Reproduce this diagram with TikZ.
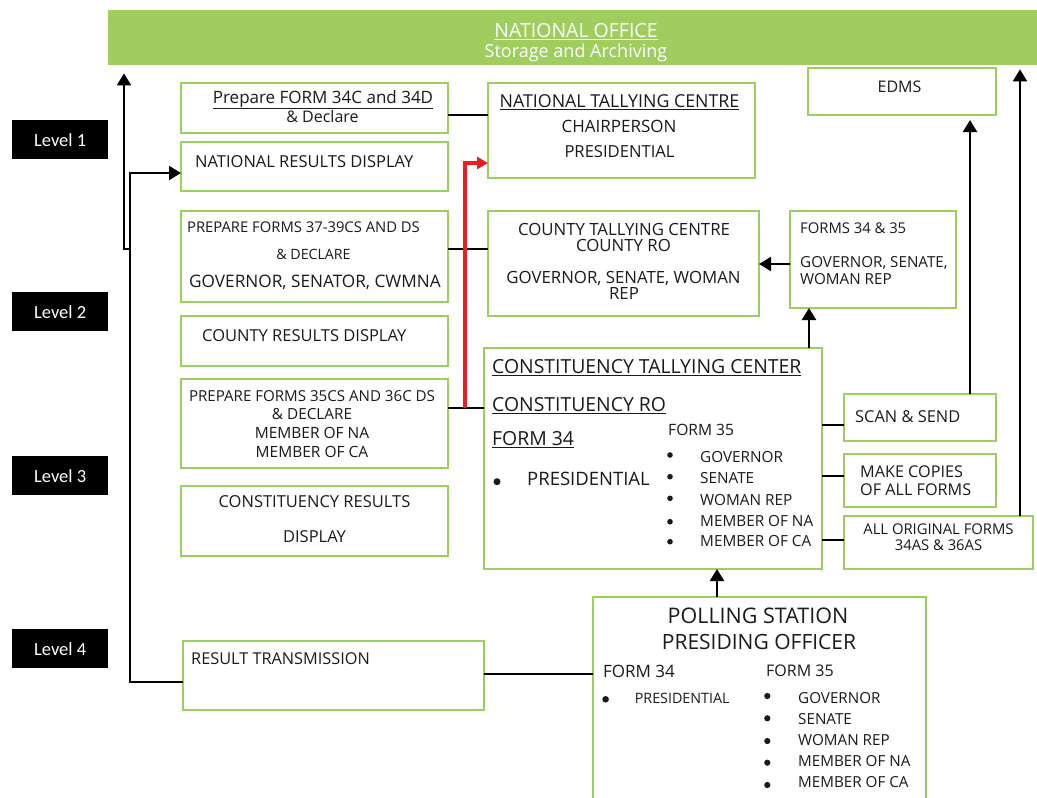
\documentclass[tikz,border=0pt]{standalone}
\usepackage{fontspec}
\setmainfont{Open Sans}
\newfontfamily\levelfont{Carlito}
\usetikzlibrary{arrows.meta}
\definecolor{boxgreen}{HTML}{9BCF5E}
\definecolor{bannergreen}{HTML}{9FCE5E}
\definecolor{txt}{HTML}{1A1A1A}
\definecolor{redline}{HTML}{ED1C24}
\begin{document}
\begin{tikzpicture}[x=1pt,y=-1pt,
 box/.style={draw=boxgreen, line width=2.5pt, fill=white, inner sep=0pt, outer sep=0pt, anchor=north west},
 lvl/.style={fill=black, text=white, font=\levelfont\fontsize{18.5}{19}\selectfont, minimum width=96pt, minimum height=39pt, inner sep=0pt, anchor=north west},
 fs/.style={font=\fontsize{#1}{#1}\selectfont, yshift={-0.357*#1pt}},
 t/.style={text=txt, inner sep=0pt, anchor=base},
 tl/.style={text=txt, inner sep=0pt, anchor=base west},
 conn/.style={line width=2.2pt, draw=black},
 arr/.style={conn, -{Triangle[length=12pt,width=14pt]}},
 bul/.style={fill=txt},
]
\useasboundingbox (0,0) rectangle (1037,798);

% banner
\node[fill=bannergreen, minimum width=929pt, minimum height=55pt, anchor=north west, inner sep=0pt] (office) at (108,10) {};
\node[t, text=white, fs=19.5] (officet) at (576,31) {\underline{NATIONAL OFFICE}};
\node[t, text=white, fs=18] (offices) at (576,51) {Storage and Archiving};

% levels
\node[lvl] (l1) at (12,120) {Level 1};
\node[lvl] (l2) at (12,292) {Level 2};
\node[lvl] (l3) at (12,456) {Level 3};
\node[lvl] (l4) at (12,629) {Level 4};

% boxes
\node[box, minimum width=267pt, minimum height=50pt] (prep34) at (181,83) {};
\node[box, minimum width=267pt, minimum height=49pt] (natdisp) at (181,142) {};
\node[box, minimum width=267pt, minimum height=95pt] (ntc) at (488,83) {};
\node[box, minimum width=188pt, minimum height=47pt] (edms) at (808,68) {};
\node[box, minimum width=267pt, minimum height=91pt] (prep37) at (181,211) {};
\node[box, minimum width=271pt, minimum height=105pt] (ctc) at (488,211) {};
\node[box, minimum width=166pt, minimum height=97pt] (f3435) at (790,211) {};
\node[box, minimum width=267pt, minimum height=50pt] (cntydisp) at (181,316) {};
\node[box, minimum width=267pt, minimum height=89pt] (prep35) at (181,379) {};
\node[box, minimum width=267pt, minimum height=70pt] (constdisp) at (181,486) {};
\node[box, minimum width=338pt, minimum height=221pt] (ctcen) at (484,348) {};
\node[box, minimum width=152pt, minimum height=47pt] (scan) at (844,394) {};
\node[box, minimum width=152pt, minimum height=53pt] (copies) at (844,454) {};
\node[box, minimum width=189pt, minimum height=53pt] (orig) at (844,516) {};
\node[box, minimum width=301pt, minimum height=69pt] (restr) at (183,641) {};
\node[box, minimum width=333pt, minimum height=215pt] (poll) at (593,597) {};

% connectors
\draw[arr] (restr.west |- 0,682) -- (130,682) -- (130,173) -- (natdisp.west |- 0,173);
\coordinate (lj) at (130,249);
\draw[arr] (lj) -- (124,249) -- ([yshift=-8pt]office.south -| 124,0);
\draw[conn] (prep34.east |- 0,115) -- (ntc.west |- 0,115);
\draw[conn] (prep37.east |- 0,249) -- (ctc.west |- 0,249);
\draw[conn] (prep35.east |- 0,408) -- (ctcen.west |- 0,408);
\coordinate (rs) at (465,408);
\draw[line width=4.5pt, draw=redline, -{Triangle[length=11pt,width=12pt]}] (rs) -- (465,163) -- (ntc.west |- 0,163);
\draw[arr] (f3435.west |- 0,264) -- (ctc.east |- 0,264);
\draw[arr] (ctcen.north -| 809,0) -- (f3435.south -| 809,0);
\draw[arr] (scan.north -| 970,0) -- ([yshift=-5pt]edms.south -| 970,0);
\draw[arr] (orig.north -| 1020,0) -- ([yshift=-4pt]office.south -| 1020,0);
\draw[conn] (ctcen.east |- 0,425) -- (scan.west |- 0,425);
\draw[conn] (ctcen.east |- 0,476) -- (copies.west |- 0,476);
\draw[conn] (ctcen.east |- 0,540) -- (orig.west |- 0,540);
\draw[arr] (poll.north -| 717,0) -- (ctcen.south -| 717,0);
\draw[conn] (restr.east |- 0,674) -- (poll.west |- 0,674);

% texts
\node[t, fs=17] (p34a) at (323,97) {\underline{Prepare FORM 34C and 34D}};
\node[t, fs=16] (p34b) at (322.5,116.5) {\& Declare};
\node[tl, fs=16.5] (ndt) at (195,161.5) {NATIONAL RESULTS DISPLAY};
\node[t, fs=17.8] (ntca) at (619.5,101) {\underline{NATIONAL TALLYING CENTRE}};
\node[t, fs=17] (ntcb) at (619,126.8) {CHAIRPERSON};
\node[t, fs=16.6] (ntcc) at (619.5,151.7) {PRESIDENTIAL};
\node[t, fs=16] (edmst) at (899.5,87) {EDMS};
\node[t, fs=14.8] (p37a) at (303.5,227) {PREPARE FORMS 37-39CS AND DS};
\node[t, fs=14.2] (p37b) at (313.5,254) {\& DECLARE};
\node[t, fs=17.2] (p37c) at (315,281) {GOVERNOR, SENATOR, CWMNA};
\node[t, fs=16.8] (ctca) at (624,229.3) {COUNTY TALLYING CENTRE};
\node[t, fs=16.8] (ctcb) at (623.5,245.8) {COUNTY RO};
\node[t, fs=16.8] (ctcc) at (623.5,277.7) {GOVERNOR, SENATE, WOMAN};
\node[t, fs=16.8] (ctcd) at (624,293.5) {REP};
\node[tl, fs=14.8] (fa) at (800,228.3) {FORMS 34 \& 35};
\node[tl, fs=15.2] (fb) at (800,262) {GOVERNOR, SENATE,};
\node[tl, fs=15.2] (fc) at (800,279) {WOMAN REP};
\node[tl, fs=16.5] (cdt) at (202,335.5) {COUNTY RESULTS DISPLAY};
\node[t, fs=15.1] (p35a) at (312,395.8) {PREPARE FORMS 35CS AND 36C DS};
\node[t, fs=15.3] (p35b) at (312,414.3) {\& DECLARE};
\node[t, fs=15.5] (p35c) at (312,433.3) {MEMBER OF NA};
\node[t, fs=15.5] (p35d) at (312,452.3) {MEMBER OF CA};
\node[t, fs=16.5] (cda) at (314.5,502) {CONSTITUENCY RESULTS};
\node[t, fs=16.5] (cdb) at (314.5,536.7) {DISPLAY};

\node[tl, fs=19.4] (cca) at (492,366.5) {\underline{CONSTITUENCY TALLYING CENTER}};
\node[tl, fs=19.4] (ccb) at (492,405) {\underline{CONSTITUENCY RO}};
\node[tl, fs=19.4] (ccc) at (492,439) {\underline{FORM 34}};
\fill[bul] (497,481.7) circle (3.5pt);
\node[tl, fs=18.5] (ccp) at (527,478.7) {PRESIDENTIAL};
\node[tl, fs=15.6] (cc35) at (668,430) {FORM 35};
\foreach \yy in {455,476.7,498.3,521.7,541.7} \fill[bul] (670,\yy) circle (2.8pt);
\node[tl, fs=15.3] (cci1) at (700,457.5) {GOVERNOR};
\node[tl, fs=15.3] (cci2) at (700,478.3) {SENATE};
\node[tl, fs=15.3] (cci3) at (700,499.7) {WOMAN REP};
\node[tl, fs=15.3] (cci4) at (700,521) {MEMBER OF NA};
\node[tl, fs=15.3] (cci5) at (700,541.3) {MEMBER OF CA};

\node[tl, fs=16.4] (scant) at (855,416.3) {SCAN \& SEND};
\node[tl, fs=16.2] (copa) at (860,471.3) {MAKE COPIES};
\node[tl, fs=16.2] (copb) at (860,489.7) {OF ALL FORMS};
\node[t, fs=14.8] (origa) at (938.5,529.5) {ALL ORIGINAL FORMS};
\node[t, fs=14.8] (origb) at (938.5,545.5) {34AS \& 36AS};
\node[tl, fs=16.3] (rtt) at (191,658.8) {RESULT TRANSMISSION};

\node[t, fs=21.5] (pa) at (758,616.3) {POLLING STATION};
\node[t, fs=21] (pb) at (759,642) {PRESIDING OFFICER};
\node[tl, fs=17] (p34) at (603,671.2) {FORM 34};
\node[tl, fs=16] (p35) at (766,671.2) {FORM 35};
\fill[bul] (605.6,699.3) circle (3.3pt);
\node[tl, fs=14.3] (ppres) at (634.6,698.3) {PRESIDENTIAL};
\foreach \yy in {696,718.3,741,762.7,785} \fill[bul] (767.3,\yy) circle (3.1pt);
\node[tl, fs=15.2] (pi1) at (798,698.3) {GOVERNOR};
\node[tl, fs=15.2] (pi2) at (798,719) {SENATE};
\node[tl, fs=15.2] (pi3) at (798,740.3) {WOMAN REP};
\node[tl, fs=15.2] (pi4) at (798,761.3) {MEMBER OF NA};
\node[tl, fs=15.2] (pi5) at (798,782) {MEMBER OF CA};
\end{tikzpicture}
\end{document}
